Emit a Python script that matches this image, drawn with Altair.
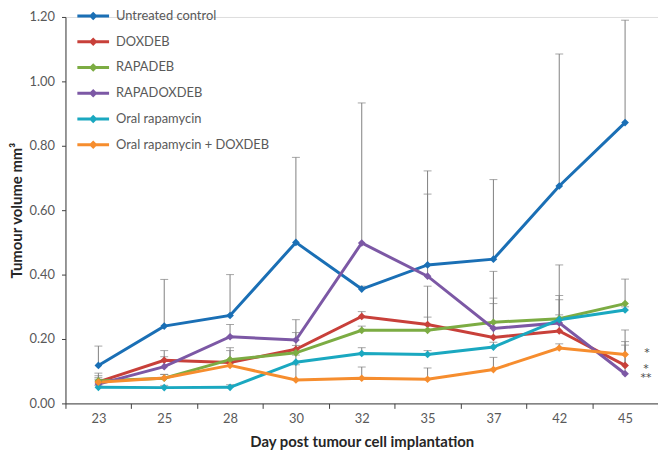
import json
import altair as alt
import pandas as pd

days = ["23", "25", "28", "30", "32", "35", "37", "42", "45"]
series = ["Untreated control", "DOXDEB", "RAPADEB", "RAPADOXDEB",
          "Oral rapamycin", "Oral rapamycin + DOXDEB"]
colors = ["#1a6fb5", "#c8403a", "#7cac43", "#7c58a5", "#1aa8c0", "#f68d2e"]

untreated = [0.118, 0.240, 0.273, 0.500, 0.355, 0.430, 0.448, 0.675, 0.872]
doxdeb = [0.067, 0.134, 0.127, 0.168, 0.270, 0.245, 0.205, 0.225, 0.118]
rapadeb = [0.070, 0.078, 0.136, 0.157, 0.227, 0.227, 0.252, 0.263, 0.310]
rapadoxdeb = [0.060, 0.114, 0.207, 0.197, 0.498, 0.395, 0.233, 0.250, 0.092]
oral_rapa = [0.050, 0.049, 0.050, 0.128, 0.155, 0.152, 0.175, 0.260, 0.290]
oral_rapa_dox = [0.066, 0.079, 0.118, 0.073, 0.078, 0.075, 0.105, 0.172, 0.152]

untreated_up = [0.178, 0.385, 0.400, 0.764, 0.364, 0.722, 0.695, 1.085, 1.190]
doxdeb_up = [0.094, 0.164, 0.164, 0.220, 0.285, 0.268, 0.310, 0.322, 0.192]
rapadeb_up = [0.086, 0.090, 0.173, 0.180, 0.240, 0.364, 0.410, 0.430, 0.386]
rapadoxdeb_up = [0.080, 0.145, 0.245, 0.260, 0.933, 0.650, 0.327, 0.335, 0.228]
oral_rapa_up = [0.056, 0.056, 0.058, 0.150, 0.173, 0.164, 0.190, 0.275, 0.300]
oral_rapa_dox_up = [0.075, 0.090, 0.125, 0.120, 0.113, 0.110, 0.143, 0.185, 0.181]

star_series = ["Oral rapamycin + DOXDEB", "DOXDEB", "RAPADOXDEB"]
star_text = ["*", "*", "**"]

vals = [untreated, doxdeb, rapadeb, rapadoxdeb, oral_rapa, oral_rapa_dox]
ups = [untreated_up, doxdeb_up, rapadeb_up, rapadoxdeb_up, oral_rapa_up, oral_rapa_dox_up]

rows = []
for s, v, u in zip(series, vals, ups):
    for i, d in enumerate(days):
        rows.append({"series": s, "day": d, "idx": i, "value": v[i], "upper": u[i]})
df = pd.DataFrame(rows)

last = len(days) - 1
stars_df = pd.DataFrame({
    "series": star_series,
    "text": star_text,
    "idx": [last] * len(star_series),
    "value": [vals[series.index(s)][last] for s in star_series],
})

FONT = "Lato"
GRAY = "#595959"
AXC = "#404040"

xscale = alt.Scale(domain=[-0.5, len(days) - 0.5], nice=False, zero=False)
yscale = alt.Scale(domain=[0, 1.2], nice=False, zero=True)

tick_axis = alt.Axis(orient="bottom", values=[i - 0.5 for i in range(len(days) + 1)],
                     labels=False, tickSize=5, tickColor=AXC, domainColor=AXC,
                     grid=False, title=None)
label_axis = alt.Axis(orient="bottom", values=list(range(len(days))),
                      labelExpr=json.dumps(days) + "[round(datum.value)]",
                      ticks=False, domain=False, grid=False, labelPadding=9,
                      labelFont=FONT, labelFontSize=13, labelColor=GRAY,
                      title="Day post tumour cell implantation", titleFont=FONT,
                      titleFontSize=15, titleFontWeight="bold", titleColor="#262626",
                      titlePadding=9)
yaxis = alt.Axis(values=[0, 0.2, 0.4, 0.6, 0.8, 1.0, 1.2], format=".2f", grid=False,
                 tickSize=4, tickColor=AXC, domainColor=AXC, labelPadding=7,
                 labelFont=FONT, labelFontSize=13, labelColor=GRAY,
                 title="Tumour volume mm³", titleFont=FONT, titleFontSize=15,
                 titleFontWeight="bold", titleColor="#262626", titlePadding=5)

path = "M-1,-0.09L1,-0.09L1,0.09L-1,0.09Z M0,-0.27L0.27,0L0,0.27L-0.27,0Z"
legend = alt.Legend(title=None, orient="none", legendX=12, legendY=-17,
                    symbolType=path, symbolSize=1024, symbolStrokeWidth=0,
                    labelFont=FONT, labelFontSize=13, labelColor=GRAY,
                    labelOffset=7, rowPadding=3, padding=0)

cscale = alt.Scale(domain=series, range=colors)
base = alt.Chart(df)

err = base.mark_rule(color="#808080", strokeWidth=1).encode(
    x=alt.X("idx:Q", scale=xscale, axis=tick_axis),
    y=alt.Y("value:Q", scale=yscale, axis=yaxis),
    y2="upper:Q",
)
cap = base.mark_tick(color="#808080", thickness=1, size=8, orient="horizontal").encode(
    x=alt.X("idx:Q", scale=xscale, axis=None),
    y=alt.Y("upper:Q", scale=yscale),
)
line = base.mark_line(strokeWidth=3).encode(
    x=alt.X("idx:Q", scale=xscale, axis=label_axis),
    y=alt.Y("value:Q", scale=yscale),
    color=alt.Color("series:N", scale=cscale, legend=legend, sort=series),
    order="idx:Q",
)
pts = base.mark_point(shape="diamond", filled=True, size=60, opacity=1).encode(
    x=alt.X("idx:Q", scale=xscale, axis=None),
    y=alt.Y("value:Q", scale=yscale),
    color=alt.Color("series:N", scale=cscale, legend=legend, sort=series),
)
star_base = alt.Chart(stars_df)
txt1 = star_base.transform_filter(alt.datum.series == star_series[0]).mark_text(
    align="center", baseline="middle", dx=22, dy=-1,
    font="DejaVu Sans", fontSize=11, color="#4a4a4a").encode(
    x=alt.X("idx:Q", scale=xscale, axis=None),
    y=alt.Y("value:Q", scale=yscale),
    text="text:N",
)
txt2 = star_base.transform_filter(alt.datum.series != star_series[0]).mark_text(
    align="center", baseline="middle", dx=21, dy=4,
    font="DejaVu Sans", fontSize=11, color="#4a4a4a").encode(
    x=alt.X("idx:Q", scale=xscale, axis=None),
    y=alt.Y("value:Q", scale=yscale),
    text="text:N",
)

chart = alt.layer(err, cap, line, pts, txt1, txt2).resolve_axis(x="independent").properties(
    width=598, height=390,
    autosize=alt.AutoSizeParams(type="none"),
    padding={"left": 58, "top": 7, "right": 0, "bottom": 48},
).configure_view(strokeWidth=0, stroke="transparent").configure(font=FONT)

chart.save("out.html", embed_options={"renderer": "svg", "actions": False})
